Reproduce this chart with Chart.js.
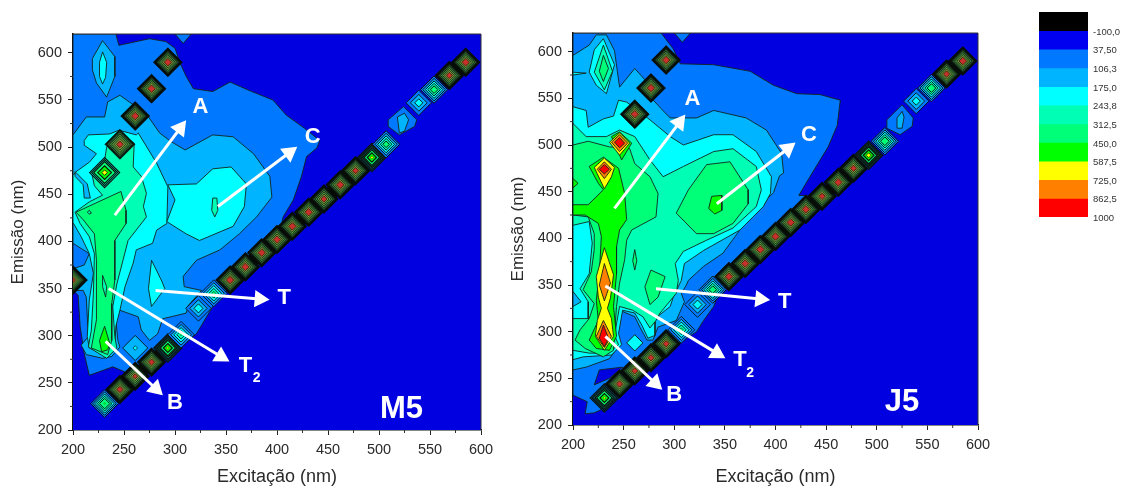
<!DOCTYPE html>
<html>
<head>
<meta charset="utf-8">
<title>Excitação x Emissão</title>
<script src="https://cdn.jsdelivr.net/npm/chart.js@4"></script>
<style>
  html, body { margin: 0; padding: 0; background: #fff; overflow: hidden; }
  canvas { position: absolute; }
  #m5Chart { left: 0; top: 0; }
  #j5Chart { left: 500px; top: 0; }
  #scaleChart { left: 1030px; top: 0; }
</style>
</head>
<body>
<canvas id="m5Chart" width="500" height="486"></canvas>
<canvas id="j5Chart" width="500" height="486"></canvas>
<canvas id="scaleChart" width="91" height="240"></canvas>
<script>
// -----------------------------
// Colour scale
// -----------------------------
const scaleLabels = ["-100,0", "37,50", "106,3", "175,0", "243,8", "312,5", "450,0", "587,5", "725,0", "862,5", "1000"];
const scaleColors = ["#000000", "#0000f0", "#0078ff", "#00b4ff", "#00ffff", "#00ffb4", "#00ff78", "#00ff00", "#ffff00", "#ff8000", "#ff0000"];
const levelValues = [37.5, 106.3, 175, 243.8, 312.5, 450, 587.5, 725, 862.5];
const levelColors = ["#0000e0", "#0078ff", "#00b4ff", "#00ffff", "#00ffb4", "#00ff78", "#00ff00", "#ffff00", "#ff8000", "#ff0000"];
// the strong cells are so tight in the source that their rings blur to these
const strongRingColors = ["#000000", "#000000", "#030805", "#12301e", "#2a5a32", "#3f8a3c", "#5c9a40", "#8a9a3a", "#c8302a"];

// -----------------------------
// M5: scatter cells
// -----------------------------
const m5BandX = [231, 246, 261, 277, 293, 306, 323, 338, 354, 369, 385, 400, 415, 431, 446, 462, 477, 493, 507, 539, 554, 569, 585];
const m5BandY = [228, 243, 257, 272, 287, 301, 329, 345, 359, 373, 388, 402, 416, 431, 445, 460, 475, 489, 503, 547, 561, 576, 590];
const m5BandPeak = [480, 950, 900, 950, 640, 340, 250, 360, 1000, 1000, 1000, 1000, 1000, 1000, 950, 1000, 950, 650, 400, 240, 420, 950, 1000];
const m5SpotX = [293, 277, 261, 246, 231, 200, 261];
const m5SpotY = [590, 562, 533, 503, 473, 359, 287];
const m5SpotPeak = [1000, 1000, 1000, 950, 680, 900, 190];
const m5SpotFloor = [0, 0, 0, 175, 175, 0, 90];

// M5: contour outlines, [excitation, emission]
const m5Outer = [[200, 620], [242, 620], [245, 608], [275, 615], [291, 612], [300, 605], [305, 589], [311, 575], [318, 562], [337, 559], [354, 569], [373, 560], [396, 550], [409, 534], [427, 520], [442, 507], [439, 499], [429, 490], [424, 469], [416, 444], [406, 426], [399, 391], [354, 349], [345, 345], [337, 331], [321, 302], [305, 287], [292, 280], [262, 256], [250, 262], [239, 267], [216, 258], [211, 281], [207, 310], [205, 343], [200, 348]];
const m5TopPatch = [[300, 620], [316, 620], [308, 610]];
const m5Blob = [[509, 529], [524, 543], [537, 529], [535, 522], [520, 513], [509, 522]];
const m5BlobCore = [[518, 532], [525, 536], [529, 529], [525, 517], [520, 515]];
const m5TopIsland = [[219, 594], [229, 613], [241, 596], [241, 575], [233, 553], [223, 568], [219, 582]];
const m5TopCore = [[226, 590], [229, 601], [233, 590], [232, 574], [229, 567], [226, 575]];
const m5Light = [[200, 513], [213, 532], [231, 532], [234, 548], [246, 555], [259, 545], [274, 532], [285, 515], [296, 506], [310, 497], [337, 513], [357, 511], [377, 493], [393, 469], [395, 447], [380, 426], [363, 408], [344, 391], [321, 380], [308, 363], [309, 352], [326, 348], [313, 332], [311, 324], [288, 318], [283, 302], [275, 295], [267, 306], [264, 320], [246, 327], [242, 317], [244, 295], [246, 288], [238, 278], [229, 276], [213, 280], [208, 290], [215, 299], [213, 341], [210, 348], [200, 348]];
const m5LeftPatch = [[200, 398], [216, 387], [211, 375], [200, 371]];
const m5Cyan = [[211, 507], [215, 513], [236, 514], [245, 518], [262, 513], [264, 515], [282, 483], [293, 458], [292, 419], [282, 412], [278, 398], [262, 391], [259, 377], [251, 352], [246, 327], [242, 310], [241, 287], [233, 279], [216, 287], [214, 299], [216, 338], [220, 366], [216, 387], [208, 405], [200, 420], [200, 470], [203, 474], [216, 484], [223, 493], [211, 502]];
const m5Sliver = [[202, 474], [214, 461], [217, 446], [211, 446], [210, 460], [202, 469]];
const m5Island = [[293, 460], [321, 461], [337, 477], [355, 479], [370, 461], [368, 437], [357, 416], [324, 401], [311, 408], [292, 421], [300, 444]];
const m5IslandCore = [[337, 446], [341, 446], [342, 433], [339, 426], [336, 433]];
const m5TPatch = [[277, 380], [287, 358], [290, 350], [277, 331], [274, 350]];
const m5Stem4 = [[202, 431], [216, 442], [229, 449], [221, 459], [218, 474], [231, 486], [233, 500], [246, 516], [260, 504], [259, 479], [267, 469], [272, 451], [269, 437], [272, 426], [254, 401], [249, 380], [243, 355], [239, 331], [241, 299], [243, 287], [233, 276], [215, 288], [218, 306], [220, 345], [221, 387], [216, 405], [207, 419]];
const m5Stem5 = [[203, 431], [247, 453], [252, 433], [252, 419], [241, 401], [241, 359], [238, 334], [238, 295], [234, 280], [218, 287], [223, 317], [223, 380], [221, 408], [210, 423]];
const m5StemBase = [[226, 295], [231, 310], [236, 292], [234, 285], [228, 283]];
const m5StemMid = [[229, 364], [233, 352], [232, 341], [229, 352]];
const m5StemTip = [[214, 431], [216, 433], [218, 430], [216, 429]];

// M5: arrows and labels
const m5ArrowStartX = [241, 342, 281, 235, 232];
const m5ArrowStartY = [428, 437, 348, 350, 294];
const m5ArrowEndX = [305, 412, 383, 345, 281];
const m5ArrowEndY = [520, 494, 339, 278, 244];
const m5LabelText = ["A", "C", "T", "T", "2", "B", "M5"];
const m5LabelX = [325, 435, 407, 369, 380, 300, 522];
const m5LabelY = [543, 511, 340, 268, 255, 229, 222];

// -----------------------------
// J5: scatter cells
// -----------------------------
const j5BandX = [231, 246, 261, 277, 292, 307, 323, 338, 354, 370, 385, 400, 415, 430, 446, 462, 477, 492, 508, 539, 554, 569, 585];
const j5BandY = [229, 244, 258, 272, 287, 302, 329, 345, 359, 373, 388, 402, 417, 431, 445, 460, 475, 489, 504, 547, 561, 576, 590];
const j5BandPeak = [640, 950, 950, 950, 950, 360, 250, 420, 1000, 1000, 1000, 1000, 1000, 1000, 950, 1000, 950, 700, 440, 240, 440, 950, 1000];
const j5SpotX = [292, 277, 261, 261];
const j5SpotY = [591, 561, 533, 288];
const j5SpotPeak = [1000, 1000, 1000, 240];
const j5SpotFloor = [0, 0, 0, 120];

// J5: contour outlines, [excitation, emission]
const j5Outer = [[200, 620], [287, 620], [299, 603], [306, 587], [339, 586], [375, 579], [398, 564], [421, 555], [444, 554], [464, 548], [461, 521], [452, 498], [434, 466], [423, 446], [446, 445], [354, 349], [345, 345], [339, 327], [329, 312], [322, 300], [307, 289], [292, 280], [276, 262], [259, 248], [246, 236], [231, 218], [221, 213], [212, 212], [214, 225], [200, 232]];
const j5TopPatch = [[300, 620], [316, 620], [308, 610]];
const j5DarkWedge = [[221, 243], [226, 259], [249, 262], [236, 250]];
const j5Blob = [[510, 527], [525, 543], [536, 529], [535, 520], [523, 511], [510, 518]];
const j5BlobCore = [[520, 529], [525, 536], [527, 530], [525, 518], [520, 518]];
const j5Light = [[200, 596], [216, 607], [223, 618], [233, 618], [241, 601], [246, 562], [261, 582], [276, 564], [276, 552], [287, 539], [296, 529], [322, 529], [339, 537], [371, 529], [391, 516], [406, 491], [408, 470], [404, 467], [398, 449], [375, 424], [348, 384], [329, 370], [314, 355], [312, 350], [307, 341], [310, 332], [302, 312], [284, 305], [279, 291], [273, 291], [266, 305], [261, 316], [246, 323], [243, 305], [246, 286], [236, 271], [213, 262], [200, 259]];
const j5Cyan = [[200, 541], [213, 537], [215, 519], [230, 528], [240, 531], [245, 548], [253, 546], [259, 541], [276, 527], [296, 509], [309, 500], [339, 511], [358, 511], [381, 493], [396, 466], [395, 448], [388, 434], [365, 409], [329, 387], [310, 373], [307, 355], [299, 337], [296, 327], [281, 314], [281, 296], [274, 293], [268, 307], [261, 320], [249, 323], [245, 298], [248, 286], [238, 275], [210, 273], [200, 270]];
const j5Mint = [[200, 523], [213, 509], [233, 509], [246, 516], [261, 509], [276, 484], [289, 466], [309, 477], [339, 493], [358, 496], [381, 477], [386, 452], [381, 434], [358, 411], [332, 398], [309, 386], [301, 373], [304, 355], [302, 341], [286, 320], [282, 312], [276, 304], [269, 316], [259, 323], [246, 327], [241, 296], [245, 286], [235, 277], [216, 277], [200, 280]];
const j5Spring = [[200, 500], [215, 504], [236, 498], [256, 496], [261, 480], [276, 466], [284, 448], [282, 423], [258, 409], [253, 398], [251, 377], [246, 352], [243, 327], [241, 298], [240, 280], [230, 273], [212, 282], [202, 291], [207, 302], [216, 314], [221, 330], [210, 345], [218, 364], [221, 388], [221, 405], [215, 423], [200, 425]];
const j5LeftCyan = [[200, 414], [216, 418], [219, 395], [216, 362], [207, 346], [215, 332], [215, 314], [200, 314]];
const j5LeftLight = [[200, 343], [208, 332], [200, 327]];
const j5LeftNotch = [[200, 464], [205, 459], [200, 454]];
const j5Green = [[200, 436], [215, 436], [230, 452], [225, 459], [216, 477], [230, 487], [245, 475], [251, 448], [253, 420], [246, 409], [243, 391], [243, 362], [240, 327], [243, 295], [236, 280], [223, 282], [216, 291], [225, 312], [223, 334], [226, 362], [228, 402], [225, 416], [212, 425], [200, 425]];
const j5UpperLobe = [[238, 509], [246, 514], [258, 502], [248, 484]];
const j5TopCyan = [[216, 578], [221, 602], [230, 614], [241, 586], [233, 555], [223, 564]];
const j5TopMint = [[221, 578], [230, 607], [239, 579], [231, 559]];
const j5TopSpring = [[226, 579], [230, 596], [235, 582], [230, 568]];
const j5TopWedge = [[200, 578], [213, 577], [200, 575]];
const j5Island = [[302, 427], [314, 452], [332, 479], [355, 482], [373, 452], [373, 437], [358, 416], [339, 405], [322, 405]];
const j5IslandCore = [[337, 445], [347, 446], [347, 430], [340, 426], [334, 432]];
const j5TPatch = [[277, 366], [291, 359], [284, 337], [276, 329], [271, 348]];
const j5ThinPatch = [[261, 388], [263, 376], [261, 366], [259, 376]];
const j5StemYellow = [[231, 390], [240, 361], [237, 336], [234, 325], [238, 314], [240, 295], [231, 280], [222, 295], [224, 312], [228, 325], [225, 337], [223, 359]];
const j5StemOrangeTop = [[231, 373], [237, 352], [231, 333], [226, 350]];
const j5StemOrangeLow = [[230, 312], [238, 295], [231, 283], [223, 295]];
const j5StemRed = [[230, 307], [235, 293], [231, 284], [226, 293]];
const j5MidYellow = [[221, 476], [231, 486], [241, 476], [238, 466], [231, 453]];
const j5MidOrange = [[224, 474], [231, 482], [238, 474], [231, 464]];
const j5MidRed = [[226, 474], [231, 479], [236, 474], [231, 469]];
const j5HighYellow = [[236, 503], [246, 513], [256, 502], [246, 489]];
const j5HighOrange = [[238, 503], [246, 511], [254, 502], [246, 493]];
const j5HighRed = [[241, 503], [246, 508], [251, 502], [246, 497]];

// J5: arrows and labels
const j5ArrowStartX = [241, 342, 282, 232, 232];
const j5ArrowStartY = [432, 437, 346, 349, 295];
const j5ArrowEndX = [305, 412, 385, 342, 281];
const j5ArrowEndY = [524, 496, 335, 277, 245];
const j5LabelText = ["A", "C", "T", "T", "2", "B", "J5"];
const j5LabelX = [318, 433, 409, 365, 375, 300, 525];
const j5LabelY = [549, 511, 332, 270, 256, 232, 224];

// -----------------------------
// Dataset helpers
// -----------------------------
function contour(points, level) {
  return {
    data: points.concat([points[0]]),
    showLine: true,
    fill: "shape",
    backgroundColor: levelColors[level],
    borderColor: "#14241c",
    borderWidth: 0.9,
    tension: 0,
    pointRadius: 0
  };
}

// black strip behind the runs of strong cells on the diagonal
function cellStrips(xs, ys, peaks) {
  const strips = [];
  let run = [];
  xs.forEach((x, i) => {
    if (peaks[i] >= 640) {
      run.push([x, ys[i]]);
    } else {
      if (run.length > 1) strips.push(run);
      run = [];
    }
  });
  if (run.length > 1) strips.push(run);
  return strips.map(points => ({
    data: points,
    showLine: true,
    borderColor: "#000",
    borderWidth: 13,
    borderCapStyle: "round",
    pointRadius: 0
  }));
}

// nested diamonds, one dataset per contour level
function cellRings(xs, ys, peaks, floors) {
  const cells = xs.map((x, i) => [x, ys[i]]);
  const ringRadius = (peak, floor, value) => {
    const share = (peak - value) / (peak - floor);
    return peak >= 800 ? 2 + 13 * share : 15 * share;
  };
  return levelValues.map((value, l) => ({
    data: cells,
    showLine: false,
    pointStyle: "rectRot",
    pointBackgroundColor: ctx => (peaks[ctx.dataIndex] >= 800 ? strongRingColors[l] : levelColors[l + 1]),
    pointBorderColor: "#0c140c",
    pointBorderWidth: ctx => {
      const peak = peaks[ctx.dataIndex];
      const floor = floors ? floors[ctx.dataIndex] : 0;
      const width = peak >= 800 ? 0.7 : peak >= 600 ? 1.2 : peak >= 400 ? 1 : 0.9;
      return Math.min(width, ringRadius(peak, floor, value) * 0.3);
    },
    pointRadius: ctx => {
      const peak = peaks[ctx.dataIndex];
      const floor = floors ? floors[ctx.dataIndex] : 0;
      if (value >= peak || value < floor) return 0;
      return ringRadius(peak, floor, value);
    }
  }));
}

function arrows(x1, y1, x2, y2) {
  return x1.map((x, i) => ({
    data: [[x, y1[i]], [x2[i], y2[i]]],
    showLine: true,
    borderColor: "#fff",
    borderWidth: 3,
    pointStyle: "triangle",
    pointBackgroundColor: "#fff",
    pointBorderColor: "#fff",
    pointRadius: [0, 7],
    pointRotation: Math.atan2((x2[i] - x) * 1.02, (y2[i] - y1[i]) * 0.94) * 180 / Math.PI
  }));
}

// -----------------------------
// Plugins
// -----------------------------
const plotFrame = {
  id: "plotFrame",
  beforeDatasetsDraw(chart) {
    const { ctx, chartArea: a } = chart;
    ctx.save();
    ctx.fillStyle = levelColors[0];
    ctx.fillRect(a.left, a.top, a.width, a.height);
    ctx.restore();
  },
  afterDraw(chart) {
    const { ctx, chartArea: a, scales } = chart;
    ctx.save();
    ctx.strokeStyle = "#333";
    ctx.lineWidth = 1;
    ctx.beginPath();
    ctx.moveTo(a.left, a.top);
    ctx.lineTo(a.right, a.top);
    ctx.lineTo(a.right, a.bottom);
    // minor ticks
    for (let v = 225; v < 600; v += 50) {
      const px = scales.x.getPixelForValue(v);
      ctx.moveTo(px, a.bottom);
      ctx.lineTo(px, a.bottom + 3);
      const py = scales.y.getPixelForValue(v);
      ctx.moveTo(a.left, py);
      ctx.lineTo(a.left - 3, py);
    }
    ctx.stroke();
    ctx.restore();
  }
};

function markLabels(texts, xs, ys) {
  return {
    id: "markLabels",
    afterDatasetsDraw(chart) {
      const { ctx, scales } = chart;
      ctx.save();
      ctx.fillStyle = "#fff";
      ctx.textAlign = "center";
      ctx.textBaseline = "middle";
      texts.forEach((t, i) => {
        const size = t.length > 1 ? 31 : t === "2" ? 14 : 22;
        ctx.font = "bold " + size + "px 'Liberation Sans'";
        ctx.fillText(t, scales.x.getPixelForValue(xs[i]), scales.y.getPixelForValue(ys[i]));
      });
      ctx.restore();
    }
  };
}

// -----------------------------
// Contour charts
// -----------------------------
function renderContour(canvasId, layers, box, labelPlugin) {
  const axisFont = { family: "'Liberation Sans'", size: 14.5 };
  const axisColor = "#2a2a2a";
  new Chart(document.getElementById(canvasId), {
    type: "scatter",
    data: { datasets: layers.slice().reverse() },
    plugins: [plotFrame, labelPlugin],
    options: {
      responsive: false,
      animation: false,
      layout: { padding: { left: 0, top: box.top, right: box.right, bottom: 0 } },
      plugins: { legend: { display: false }, tooltip: { enabled: false } },
      scales: {
        x: {
          min: 200,
          max: 600,
          afterFit: s => { s.height = box.xHeight; },
          border: { color: "#111", width: 1.5 },
          grid: { drawOnChartArea: false, tickLength: 5, tickColor: "#222" },
          ticks: { stepSize: 50, padding: 6, color: axisColor, font: axisFont, maxRotation: 0 },
          title: { display: true, text: "Excitação (nm)", color: axisColor, padding: 0, font: { family: "'Liberation Sans'", size: 18, lineHeight: 1 } }
        },
        y: {
          min: 200,
          max: 620,
          afterFit: s => { s.width = box.yWidth; },
          afterBuildTicks: s => { s.ticks = s.ticks.filter(t => t.value % 50 === 0); },
          border: { color: "#111", width: 1.5 },
          grid: { drawOnChartArea: false, tickLength: 5, tickColor: "#222" },
          ticks: { stepSize: 50, padding: 6, color: axisColor, font: axisFont },
          title: { display: true, text: "Emissão (nm)", color: axisColor, padding: { top: 10, bottom: 0 }, font: { family: "'Liberation Sans'", size: 17, lineHeight: 1 } }
        }
      }
    }
  });
}

const m5Layers = [
  contour(m5Outer, 1), contour(m5TopPatch, 1), contour(m5Blob, 1), contour(m5BlobCore, 2),
  contour(m5TopIsland, 2), contour(m5TopCore, 3), contour(m5Light, 2), contour(m5LeftPatch, 1),
  contour(m5Cyan, 3), contour(m5Sliver, 2), contour(m5Island, 3), contour(m5IslandCore, 4),
  contour(m5TPatch, 3), contour(m5Stem4, 4), contour(m5Stem5, 5),
  contour(m5StemBase, 6), contour(m5StemMid, 4), contour(m5StemTip, 4),
  ...cellStrips(m5BandX, m5BandY, m5BandPeak),
  ...cellRings(m5BandX, m5BandY, m5BandPeak),
  ...cellRings(m5SpotX, m5SpotY, m5SpotPeak, m5SpotFloor),
  ...arrows(m5ArrowStartX, m5ArrowStartY, m5ArrowEndX, m5ArrowEndY)
];

const j5Layers = [
  contour(j5Outer, 1), contour(j5TopPatch, 1), contour(j5DarkWedge, 0), contour(j5Blob, 1), contour(j5BlobCore, 2),
  contour(j5Light, 2), contour(j5Cyan, 3), contour(j5Mint, 4), contour(j5Spring, 5),
  contour(j5LeftCyan, 3), contour(j5LeftLight, 2), contour(j5LeftNotch, 6),
  contour(j5Green, 6), contour(j5UpperLobe, 6),
  contour(j5TopCyan, 3), contour(j5TopMint, 4), contour(j5TopSpring, 5), contour(j5TopWedge, 3),
  contour(j5Island, 5), contour(j5IslandCore, 6), contour(j5TPatch, 5), contour(j5ThinPatch, 5),
  contour(j5StemYellow, 7), contour(j5StemOrangeTop, 8), contour(j5StemOrangeLow, 8), contour(j5StemRed, 9),
  contour(j5MidYellow, 7), contour(j5MidOrange, 8), contour(j5MidRed, 9),
  contour(j5HighYellow, 7), contour(j5HighOrange, 8), contour(j5HighRed, 9),
  ...cellStrips(j5BandX, j5BandY, j5BandPeak),
  ...cellRings(j5BandX, j5BandY, j5BandPeak),
  ...cellRings(j5SpotX, j5SpotY, j5SpotPeak, j5SpotFloor),
  ...arrows(j5ArrowStartX, j5ArrowStartY, j5ArrowEndX, j5ArrowEndY)
];

renderContour("m5Chart", m5Layers, { top: 34, right: 19, xHeight: 56, yWidth: 73 }, markLabels(m5LabelText, m5LabelX, m5LabelY));
renderContour("j5Chart", j5Layers, { top: 33, right: 22, xHeight: 61, yWidth: 73 }, markLabels(j5LabelText, j5LabelX, j5LabelY));

// -----------------------------
// Colour scale bar
// -----------------------------
new Chart(document.getElementById("scaleChart"), {
  type: "bar",
  data: {
    labels: ["scale"],
    datasets: scaleColors.map(color => ({ data: [1], backgroundColor: color, barPercentage: 1, categoryPercentage: 1 }))
  },
  options: {
    responsive: false,
    animation: false,
    layout: { padding: { left: 9, top: 12, right: 0, bottom: 23 } },
    plugins: { legend: { display: false }, tooltip: { enabled: false } },
    scales: {
      x: { stacked: true, display: false },
      y: {
        stacked: true,
        reverse: true,
        position: "right",
        min: 0,
        max: 11,
        afterFit: s => { s.width = 33; },
        border: { display: false },
        grid: { display: false, drawTicks: false },
        ticks: {
          stepSize: 1,
          padding: 5,
          labelOffset: 1.5,
          color: "#333",
          font: { family: "'Liberation Sans'", size: 9.5 },
          callback: v => (v === 0 ? "" : scaleLabels[v - 1])
        }
      }
    }
  }
});
</script>
</body>
</html>
